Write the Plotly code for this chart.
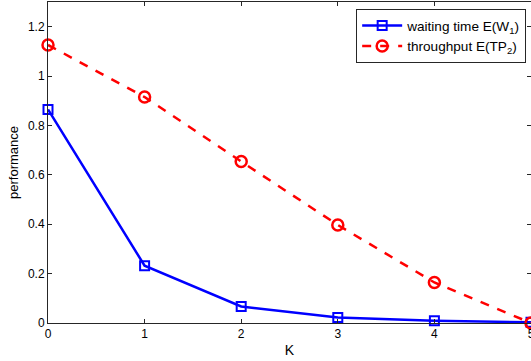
import plotly.graph_objects as go

# Number of reserved slots K
k_values = [0, 1, 2, 3, 4, 5]

# Mean waiting time of class-1 jobs
waiting_time = [0.865, 0.232, 0.067, 0.022, 0.009, 0.003]

# Mean throughput of class-2 jobs
throughput = [1.126, 0.915, 0.654, 0.397, 0.164, 0.0]

y_ticks = [0, 0.2, 0.4, 0.6, 0.8, 1.0, 1.2]
x_ticks = [0, 1, 2, 3, 4, 5]

font_family = "Liberation Sans, Arial, sans-serif"

fig = go.Figure()
fig.add_trace(go.Scatter(
    x=k_values, y=waiting_time, mode="lines+markers",
    name="waiting time E(W<sub>1</sub>)",
    line=dict(color="#0000ff", width=2.5),
    marker=dict(symbol="square-open", size=9, color="#0000ff",
                line=dict(width=2, color="#0000ff")),
    cliponaxis=False,
))
fig.add_trace(go.Scatter(
    x=k_values, y=throughput, mode="lines+markers",
    name="throughput E(TP<sub>2</sub>)",
    line=dict(color="#ff0000", width=2.5, dash="dash"),
    marker=dict(symbol="circle-open", size=11, color="#ff0000",
                line=dict(width=2.5, color="#ff0000")),
    cliponaxis=False,
))

axis_common = dict(
    showline=True, linecolor="#262626", linewidth=1, mirror="ticks",
    ticks="inside", ticklen=4, tickcolor="#262626", tickwidth=1,
    showgrid=False, zeroline=False, automargin=False,
    tickfont=dict(family=font_family, size=12, color="#000000"),
    ticklabeloverflow="allow",
)

fig.update_layout(
    width=531, height=361,
    margin=dict(l=48, r=0, t=2, b=38),
    paper_bgcolor="white", plot_bgcolor="white",
    font=dict(family=font_family, size=12, color="#000000"),
    xaxis=dict(range=[0, 5], tickvals=x_ticks,
               title=dict(text="K", font=dict(family=font_family, size=14), standoff=4),
               **axis_common),
    yaxis=dict(range=[0, 1.3], tickvals=y_ticks,
               title=dict(text="performance", font=dict(family=font_family, size=13), standoff=6),
               **axis_common),
    legend=dict(x=0.99, y=0.978, xanchor="right", yanchor="top",
                bgcolor="white", bordercolor="#262626", borderwidth=1,
                font=dict(family=font_family, size=13.6),
                tracegroupgap=0, itemwidth=40),
    showlegend=True,
)

fig.write_html("out.html")
